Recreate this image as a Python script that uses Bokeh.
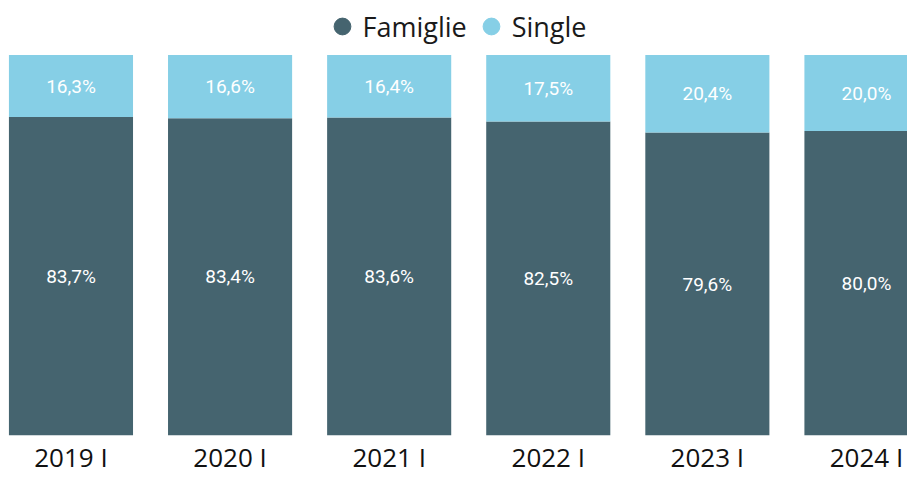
from bokeh.plotting import figure
from bokeh.models import Range1d, ColumnDataSource, Legend, LegendItem, FixedTicker
from bokeh.core.properties import value
from bokeh.embed import file_html
from bokeh.resources import INLINE

periods = ["2019 I", "2020 I", "2021 I", "2022 I", "2023 I", "2024 I"]
famiglie = [83.7, 83.4, 83.6, 82.5, 79.6, 80.0]
single = [16.3, 16.6, 16.4, 17.5, 20.4, 20.0]

C_FAM = "#45646f"
C_SIN = "#86cfe6"

idx = list(range(len(periods)))
src = ColumnDataSource(dict(
    x=idx, famiglie=famiglie, single=single,
    fam_y=[f / 2 for f in famiglie],
    sin_y=[f + s / 2 for f, s in zip(famiglie, single)],
    fam_lbl=[f"{v:.1f}%".replace(".", ",") for v in famiglie],
    sin_lbl=[f"{v:.1f}%".replace(".", ",") for v in single],
))

p = figure(width=907, height=477, output_backend="svg", toolbar_location=None,
           x_range=Range1d(-0.443, 5.258), y_range=Range1d(0, 114.32),
           min_border_left=0, min_border_right=0, min_border_top=0, min_border_bottom=38)

p.vbar_stack(["famiglie", "single"], x="x", width=0.78, source=src,
             color=[C_FAM, C_SIN], line_color=None)

p.text(x="x", y="fam_y", text="fam_lbl", source=src, text_color="white",
       text_font=value("Roboto"), text_font_size="19px",
       text_align="center", text_baseline="middle")
p.text(x="x", y="sin_y", text="sin_lbl", source=src, text_color="white",
       text_font=value("Roboto"), text_font_size="19px",
       text_align="center", text_baseline="middle")

nan = float("nan")
leg_src = ColumnDataSource(dict(x=[nan], y=[nan]))
r_f = p.scatter(x="x", y="y", source=leg_src, marker="circle", color=C_FAM)
r_s = p.scatter(x="x", y="y", source=leg_src, marker="circle", color=C_SIN)
legend = Legend(items=[LegendItem(label="Famiglie", renderers=[r_f]),
                       LegendItem(label="Single", renderers=[r_s])],
                orientation="horizontal", location="top_center",
                label_text_font="Open Sans", label_text_font_size="27px",
                label_text_color="#1a1a1a", glyph_width=42, glyph_height=42,
                label_standoff=-6, spacing=3, padding=0, margin=5,
                border_line_color=None, background_fill_alpha=0)
p.add_layout(legend)

p.xaxis.ticker = FixedTicker(ticks=idx)
p.xaxis.major_label_overrides = {i: lbl for i, lbl in zip(idx, periods)}
p.xaxis.major_label_text_font = "Open Sans"
p.xaxis.major_label_text_font_size = "26px"
p.xaxis.major_label_text_color = "#111111"
p.xaxis.major_label_standoff = 3
p.xaxis.major_tick_line_color = None
p.xaxis.minor_tick_line_color = None
p.xaxis.major_tick_out = 0
p.xaxis.axis_line_color = None
p.yaxis.visible = False
p.grid.visible = False
p.outline_line_color = None

open("out.html", "w").write(file_html(p, INLINE))
